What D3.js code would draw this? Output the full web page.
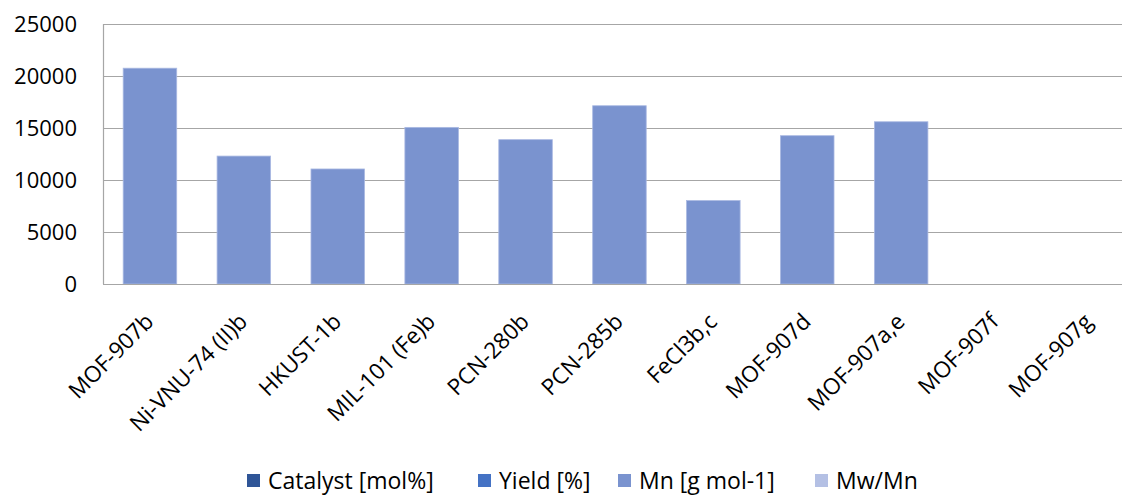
<!DOCTYPE html>
<html>
<head>
<meta charset="utf-8">
<script src="https://cdn.jsdelivr.net/npm/d3@7"></script>
<style>
  body { margin: 0; background: #fff; }
  text { font-family: "Open Sans", Lato, sans-serif; fill: #000; }
</style>
</head>
<body>
<svg id="chart"></svg>
<script>
var width = 1122;
var height = 496;

// categories along the x axis
var categories = ["MOF-907b", "Ni-VNU-74 (II)b", "HKUST-1b", "MIL-101 (Fe)b", "PCN-280b",
  "PCN-285b", "FeCl3b,c", "MOF-907d", "MOF-907a,e", "MOF-907f", "MOF-907g"];

// Mn [g mol-1] values (null = no bar)
var mnValues = [20750, 12300, 11060, 15060, 13880, 17140, 8020, 14260, 15600, null, null];

// legend series and colours
var seriesNames = ["Catalyst [mol%]", "Yield [%]", "Mn [g mol-1]", "Mw/Mn"];
var seriesColors = ["#2F5597", "#4472C4", "#7A93CF", "#B4C0E4"];

var yTicks = [0, 5000, 10000, 15000, 20000, 25000];

var plotLeft = 103, plotTop = 24, plotBottom = 284;
var bandWidth = 93.9;

var svg = d3.select("#chart")
  .attr("width", width)
  .attr("height", height);

var y = d3.scaleLinear()
  .domain([0, 25000])
  .range([plotBottom, plotTop]);

// the plot runs a bit past the right edge of the picture
var x = d3.scaleBand()
  .domain(categories)
  .range([plotLeft, plotLeft + bandWidth * categories.length])
  .paddingInner(0.43)
  .paddingOuter(0.215);

// gridlines
svg.append("g").selectAll("line")
  .data(yTicks.slice(1))
  .enter().append("line")
  .attr("x1", plotLeft).attr("x2", width)
  .attr("y1", d => y(d) + 0.5).attr("y2", d => y(d) + 0.5)
  .attr("stroke", "#A6A6A6").attr("stroke-width", 1.2);

// bars
svg.append("g").selectAll("rect")
  .data(categories.map((c, i) => ({ cat: c, v: mnValues[i] })).filter(d => d.v != null))
  .enter().append("rect")
  .attr("x", d => x(d.cat))
  .attr("width", x.bandwidth())
  .attr("y", d => y(d.v))
  .attr("height", d => y(0) - y(d.v))
  .attr("fill", seriesColors[2])
  .attr("stroke", "#A9B8E2").attr("stroke-width", 0.8);

// axis lines
svg.append("line")
  .attr("x1", plotLeft + 0.5).attr("x2", plotLeft + 0.5)
  .attr("y1", plotTop).attr("y2", plotBottom)
  .attr("stroke", "#A6A6A6").attr("stroke-width", 1.2);
svg.append("line")
  .attr("x1", plotLeft).attr("x2", width)
  .attr("y1", plotBottom + 0.5).attr("y2", plotBottom + 0.5)
  .attr("stroke", "#A6A6A6").attr("stroke-width", 1.2);

// y tick labels
svg.append("g").selectAll("text")
  .data(yTicks)
  .enter().append("text")
  .attr("x", 77)
  .attr("y", d => y(d))
  .attr("dy", "0.36em")
  .attr("text-anchor", "end")
  .style("font-size", "22px")
  .text(d => d);

// x labels, rotated
svg.append("g").selectAll("text")
  .data(categories)
  .enter().append("text")
  .attr("text-anchor", "end")
  .attr("transform", d => "translate(" + (x(d) + x.bandwidth() / 2 + 5) + ",323) rotate(-45)")
  .style("font-size", "22.5px")
  .text(d => d);

// legend
var legendX = [247, 478, 618, 815];
var legend = svg.append("g").selectAll("g")
  .data(seriesNames)
  .enter().append("g")
  .attr("transform", (d, i) => "translate(" + legendX[i] + ",474)");
legend.append("rect")
  .attr("width", 13).attr("height", 13)
  .attr("fill", (d, i) => seriesColors[i]);
legend.append("text")
  .attr("x", 21).attr("y", 6.5)
  .attr("dy", "0.36em")
  .style("font-size", "23px")
  .text(d => d);
</script>
</body>
</html>
